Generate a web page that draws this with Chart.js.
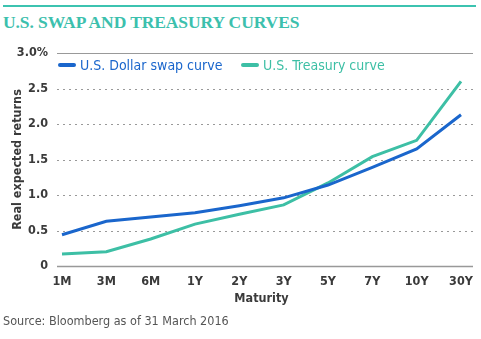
<!DOCTYPE html>
<html>
<head>
<meta charset="utf-8">
<script src="https://cdn.jsdelivr.net/npm/chart.js@4.4.1/dist/chart.umd.min.js"></script>
<style>
  body { margin: 0; background: #fff; }
  #wrap { position: relative; width: 481px; height: 339px; overflow: hidden; }
  #topline { position: absolute; left: 3px; top: 5px; width: 473px; height: 2px; background: #3cc3b0; }
  #title { position: absolute; left: 3px; top: 12px; font-family: "Liberation Serif", serif; font-weight: bold;
           font-size: 17.5px; color: #3cc0ad; white-space: nowrap; letter-spacing: -0.1px; }
  #source { position: absolute; left: 3px; top: 313px; font-family: "DejaVu Sans Condensed", "Liberation Sans", sans-serif;
            font-size: 12.5px; color: #555; white-space: nowrap; }
  .leg { position: absolute; top: 57px; font-family: "DejaVu Sans Condensed", "Liberation Sans", sans-serif;
         font-size: 14px; white-space: nowrap; }
  .leg i { display: inline-block; width: 18px; height: 4px; border-radius: 2px; vertical-align: middle; margin-right: 4px; position: relative; top: -1px; }
  canvas { position: absolute; left: 0; top: 0; }
</style>
</head>
<body>
<div id="wrap">
  <div id="topline"></div>
  <div id="title">U.S. SWAP AND TREASURY CURVES</div>
  <canvas id="chart" width="481" height="339"></canvas>
  <div class="leg" style="left:58px;color:#1a66cc"><i style="background:#1a66cc"></i>U.S. Dollar swap curve</div>
  <div class="leg" style="left:241px;color:#3dbfa5"><i style="background:#3dbfa5"></i>U.S. Treasury curve</div>
  <div id="source">Source: Bloomberg as of 31 March 2016</div>
</div>
<script>
const maturities = ["1M", "3M", "6M", "1Y", "2Y", "3Y", "5Y", "7Y", "10Y", "30Y"];
const swapCurve = [0.44, 0.63, 0.69, 0.75, 0.85, 0.96, 1.14, 1.39, 1.65, 2.13];
const treasuryCurve = [0.17, 0.20, 0.38, 0.59, 0.73, 0.86, 1.17, 1.54, 1.77, 2.60];
const yTicks = [0, 0.5, 1.0, 1.5, 2.0, 2.5, 3.0];

const tickFont = { family: "'DejaVu Sans Condensed', 'Liberation Sans', sans-serif", size: 12.5, weight: "bold" };

// horizontal grid drawn across the full plot width (wider than the point range)
const gridPlugin = {
    id: "gridPlugin",
    beforeDatasetsDraw(chart) {
        const ctx = chart.ctx;
        const y = chart.scales.y;
        const x0 = 57, x1 = 473;
        ctx.save();
        yTicks.forEach(v => {
            const py = Math.round(y.getPixelForValue(v)) + 0.5;
            ctx.beginPath();
            if (v === 0 || v === 3.0) {
                ctx.setLineDash([]);
                ctx.strokeStyle = "#999";
                ctx.lineWidth = v === 0 ? 1.5 : 1.2;
            } else {
                ctx.setLineDash([2, 4]);
                ctx.strokeStyle = "#999";
                ctx.lineWidth = 1;
            }
            ctx.moveTo(x0, py);
            ctx.lineTo(x1, py);
            ctx.stroke();
        });
        ctx.restore();
    }
};

new Chart(document.getElementById("chart"), {
    type: "line",
    data: {
        labels: maturities,
        datasets: [
            {
                label: "U.S. Dollar swap curve",
                data: swapCurve,
                borderColor: "#1a66cc",
                borderWidth: 3,
                pointRadius: 0,
                tension: 0
            },
            {
                label: "U.S. Treasury curve",
                data: treasuryCurve,
                borderColor: "#3dbfa5",
                borderWidth: 3,
                pointRadius: 0,
                tension: 0
            }
        ]
    },
    options: {
        responsive: false,
        animation: false,
        layout: { padding: { left: 0, right: 20, top: 53, bottom: 33 } },
        plugins: { legend: { display: false }, tooltip: { enabled: false } },
        scales: {
            x: {
                offset: false,
                grid: { display: false, drawTicks: false },
                border: { display: false },
                ticks: { color: "#3a3a3a", font: tickFont, padding: 8, maxRotation: 0 },
                title: { display: true, text: "Maturity", color: "#3a3a3a", font: tickFont, padding: { top: -2, bottom: 0 } },
                afterFit(scale) { scale.height = 40; }
            },
            y: {
                min: 0,
                max: 3.0,
                grid: { display: false, drawTicks: false },
                border: { display: false },
                ticks: {
                    stepSize: 0.5,
                    color: "#3a3a3a",
                    font: tickFont,
                    padding: 14,
                    callback: v => v === 0 ? "0" : (v === 3 ? "3.0%" : v.toFixed(1))
                },
                title: { display: true, text: "Real expected returns", color: "#3a3a3a", font: tickFont, padding: { top: 10, bottom: 0 } },
                afterFit(scale) { scale.width = 62; }
            }
        }
    },
    plugins: [gridPlugin]
});
</script>
</body>
</html>
